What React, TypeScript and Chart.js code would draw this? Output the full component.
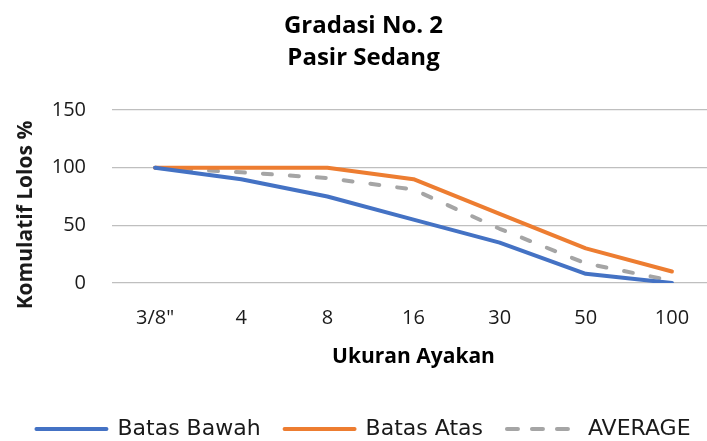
import React, { useEffect, useRef } from "react";
import { Chart, registerables } from "chart.js";

Chart.register(...registerables);

const categories = ['3/8"', "4", "8", "16", "30", "50", "100"];
const batasBawah = [100, 90, 75, 55, 35, 8, 0];
const batasAtas = [100, 100, 100, 90, 60, 30, 10];
const average = [100, 96, 91, 81, 47, 17, 2];
const yTicks = [0, 50, 100, 150];

const titleLines = ["Gradasi No. 2", "Pasir Sedang"];
const xTitle = "Ukuran Ayakan";
const yTitle = "Komulatif Lolos %";

const TEXT = "#1a1a1a";
const GRID = "#bfbfbf";

const yTitlePlugin = {
  id: "yTitlePlugin",
  afterDraw(chart: any) {
    const ctx = chart.ctx;
    ctx.save();
    ctx.translate(26, 215);
    ctx.rotate(-Math.PI / 2);
    ctx.font = "bold 21px 'Open Sans'";
    ctx.fillStyle = TEXT;
    ctx.textAlign = "center";
    ctx.textBaseline = "middle";
    ctx.fillText(yTitle, 0, 0);
    ctx.restore();
  },
};

export default function App() {
  const ref = useRef<HTMLCanvasElement>(null);
  useEffect(() => {
    document.body.style.margin = "0";
    const canvas = ref.current!;
    const chart = new Chart(canvas, {
      type: "line",
      data: {
        labels: categories,
        datasets: [
          {
            label: "Batas Bawah",
            data: batasBawah,
            borderColor: "#4472C4",
            backgroundColor: "#4472C4",
            borderWidth: 4,
            pointRadius: 0,
            tension: 0,
            borderCapStyle: "round",
            borderJoinStyle: "round",
          },
          {
            label: "Batas Atas",
            data: batasAtas,
            borderColor: "#ED7D31",
            backgroundColor: "#ED7D31",
            borderWidth: 4,
            pointRadius: 0,
            tension: 0,
            borderCapStyle: "round",
            borderJoinStyle: "round",
          },
          {
            label: "AVERAGE",
            data: average,
            borderColor: "#A5A5A5",
            backgroundColor: "#A5A5A5",
            borderWidth: 4,
            borderDash: [9, 18],
            pointRadius: 0,
            tension: 0,
            borderCapStyle: "round",
            borderJoinStyle: "round",
          },
        ],
      },
      options: {
        responsive: false,
        animation: false,
        layout: { padding: { left: 12, right: 7, top: 0, bottom: 0 } },
        plugins: {
          title: {
            display: true,
            text: titleLines,
            color: "#000",
            font: { family: "'Open Sans'", size: 24, weight: "bold", lineHeight: 32 / 24 },
            padding: { top: 10, bottom: 36 },
          },
          legend: {
            display: true,
            position: "bottom",
            labels: {
              usePointStyle: true,
              pointStyle: "line",
              pointStyleWidth: 70,
              boxWidth: 70,
              padding: 24,
              color: TEXT,
              font: { family: "'DejaVu Sans'", size: 22 },
              generateLabels(chart: any) {
                const items = Chart.defaults.plugins.legend.labels.generateLabels(chart);
                return items.map((it: any, i: number) => ({
                  ...it,
                  pointStyle: "line",
                  lineWidth: 4,
                  lineCap: "round",
                  lineDash: i === 2 ? [11, 14] : [],
                  lineDashOffset: 0,
                }));
              },
            },
          },
          tooltip: { enabled: false },
        },
        scales: {
          x: {
            offset: true,
            grid: { display: false, offset: true, drawTicks: false },
            border: { display: false },
            ticks: {
              color: TEXT,
              padding: 23,
              font: { family: "'Open Sans'", size: 20 },
            },
            title: {
              display: true,
              text: xTitle,
              color: "#000",
              font: { family: "'Open Sans'", size: 21, weight: "bold" },
              padding: { top: 0, bottom: 24 },
            },
            afterFit(scale: any) {
              scale.height = 111;
            },
          },
          y: {
            min: 0,
            max: 150,
            grid: { color: GRID, lineWidth: 1.3, drawTicks: false },
            border: { display: false },
            afterBuildTicks(scale: any) {
              scale.ticks = yTicks.map((v) => ({ value: v }));
            },
            ticks: {
              color: TEXT,
              padding: 26,
              font: { family: "'Open Sans'", size: 20 },
            },
            afterFit(scale: any) {
              scale.width = 100;
            },
          },
        },
      },
      plugins: [yTitlePlugin],
    } as any);
    return () => chart.destroy();
  }, []);
  return (
    <div style={{ width: 707, height: 441, overflow: "hidden", background: "#fff" }}>
      <canvas ref={ref} width={722} height={450} style={{ display: "block", width: 722, height: 450 }} />
    </div>
  );
}
